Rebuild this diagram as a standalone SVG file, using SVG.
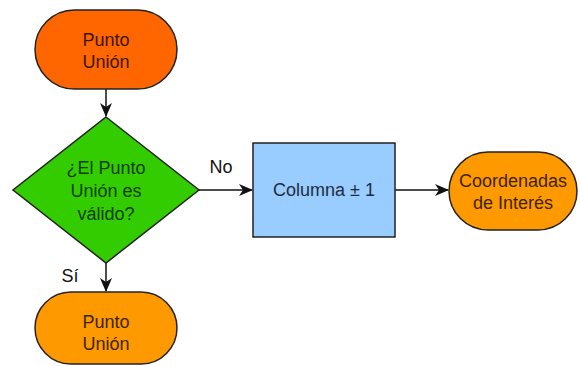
<svg xmlns="http://www.w3.org/2000/svg" width="580" height="366" viewBox="0 0 580 366">
<defs>
<style>
text{font-family:"Liberation Sans",Arial,sans-serif;font-size:18px;text-anchor:middle}
.shape{stroke:#222;stroke-width:1.5}
.edge{stroke:#111;stroke-width:1.5;fill:none}
.lbl{fill:#111}
</style>
<marker id="arr" viewBox="0 0 14 12" refX="13" refY="6" markerWidth="14" markerHeight="12" markerUnits="userSpaceOnUse" orient="auto">
<path d="M0,0 L14,6 L0,12 L4,6 Z" fill="#111"/>
</marker>
</defs>
<rect width="580" height="366" fill="#fff"/>
<g id="connectors">
<line class="edge" x1="106" y1="89" x2="106" y2="116" marker-end="url(#arr)"/>
<line class="edge" x1="199" y1="190" x2="252" y2="190" marker-end="url(#arr)"/>
<line class="edge" x1="395" y1="190" x2="448" y2="190" marker-end="url(#arr)"/>
<line class="edge" x1="106" y1="263" x2="106" y2="291" marker-end="url(#arr)"/>
<text class="lbl" x="221" y="173">No</text>
<text class="lbl" x="70" y="282">Sí</text>
</g>
<g id="punto-union-top">
<rect class="shape" x="35" y="10" width="142" height="79" rx="39.5" fill="#ff6600"/>
<text x="106" y="46" fill="#3d1500">Punto</text>
<text x="106" y="68" fill="#3d1500">Unión</text>
</g>
<g id="decision">
<polygon class="shape" points="106,117 199,190 106,263 13,190" fill="#33cc00"/>
<text x="106" y="174" fill="#0f3d00">¿El Punto</text>
<text x="106" y="197" fill="#0f3d00">Unión es</text>
<text x="106" y="220" fill="#0f3d00">válido?</text>
</g>
<g id="columna">
<rect class="shape" x="253" y="143" width="142" height="94" fill="#99ccff"/>
<text x="324" y="196" fill="#1e2d3d">Columna ± 1</text>
</g>
<g id="coordenadas">
<rect class="shape" x="449" y="152" width="128" height="78" rx="39" fill="#ff9900"/>
<text x="513" y="187" fill="#3d2400">Coordenadas</text>
<text x="513" y="209" fill="#3d2400">de Interés</text>
</g>
<g id="punto-union-bottom">
<rect class="shape" x="35" y="292" width="142" height="72" rx="36" fill="#ff9900"/>
<text x="106" y="328" fill="#3d2400">Punto</text>
<text x="106" y="350" fill="#3d2400">Unión</text>
</g>
</svg>
